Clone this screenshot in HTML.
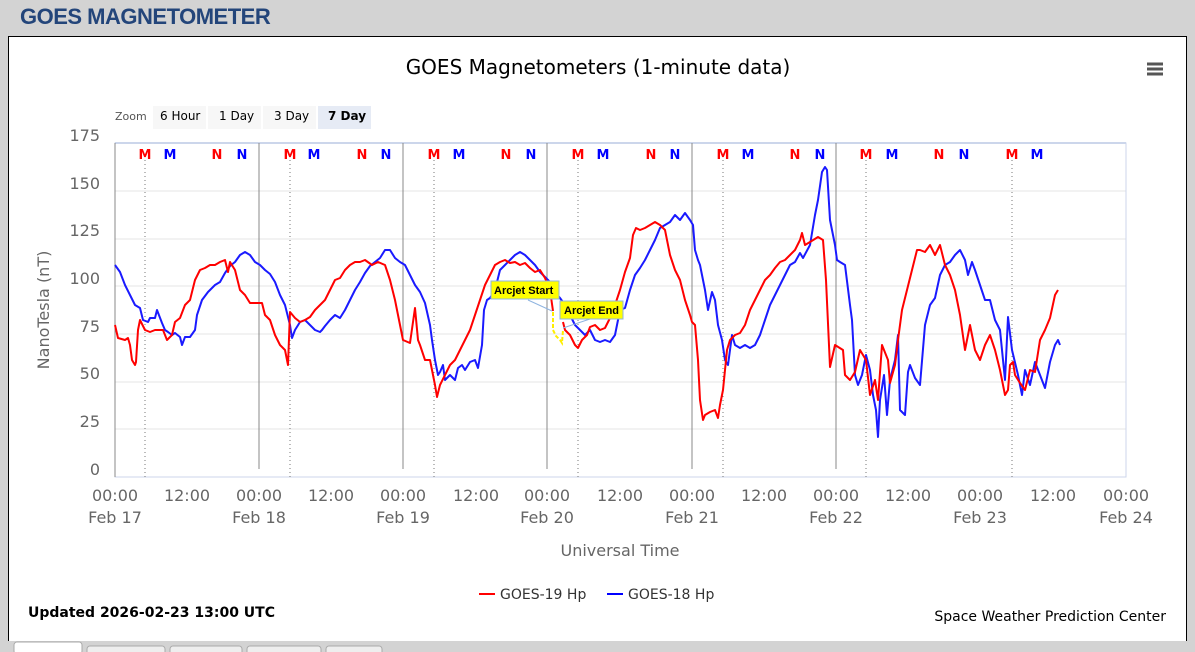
<!DOCTYPE html>
<html><head><meta charset="utf-8"><style>
body{margin:0;width:1195px;height:652px;background:#d3d3d3;overflow:hidden;font-family:"DejaVu Sans",sans-serif;}
.h{position:absolute;left:20px;top:4px;font:bold 22px "Liberation Sans",sans-serif;color:#23457a;letter-spacing:-0.5px}
.box{position:absolute;left:8px;top:36px;width:1177px;height:604px;background:#fff;border:1px solid #000;border-bottom:none}
.tabs{position:absolute;left:8px;top:641px;width:1177px;height:12px;background:#d3d3d3}
</style></head><body>
<div class="h">GOES MAGNETOMETER</div>
<div class="box"></div>
<svg style="position:absolute;left:0;top:0" width="1195" height="652" font-family="DejaVu Sans, sans-serif">
<rect x="14" y="642" width="68" height="12" rx="3" fill="#fff" stroke="#aaa"/>
<rect x="87" y="646" width="78" height="10" rx="3" fill="#eee" stroke="#aaa"/>
<rect x="170" y="646" width="72" height="10" rx="3" fill="#eee" stroke="#aaa"/>
<rect x="247" y="646" width="74" height="10" rx="3" fill="#eee" stroke="#aaa"/>
<rect x="326" y="646" width="56" height="10" rx="3" fill="#eee" stroke="#aaa"/>
<text x="598" y="74" text-anchor="middle" font-size="20" fill="#000">GOES Magnetometers (1-minute data)</text>
<g stroke="#555" stroke-width="3"><line x1="1147" y1="64" x2="1163" y2="64"/><line x1="1147" y1="69" x2="1163" y2="69"/><line x1="1147" y1="74" x2="1163" y2="74"/></g>
<text x="115" y="120" font-size="11" fill="#555">Zoom</text>
<rect x="153" y="106" width="53" height="23" fill="#f7f7f7"/><text x="160" y="120" font-size="12">6 Hour</text>
<rect x="208" y="106" width="53" height="23" fill="#f7f7f7"/><text x="219" y="120" font-size="12">1 Day</text>
<rect x="263" y="106" width="53" height="23" fill="#f7f7f7"/><text x="274" y="120" font-size="12">3 Day</text>
<rect x="318" y="106" width="53" height="23" fill="#e6ebf5"/><text x="328" y="120" font-size="12" font-weight="bold">7 Day</text>
<g stroke="#e6e6e6"><line x1="115" y1="191" x2="1126" y2="191"/><line x1="115" y1="239" x2="1126" y2="239"/><line x1="115" y1="286" x2="1126" y2="286"/><line x1="115" y1="334" x2="1126" y2="334"/><line x1="115" y1="382" x2="1126" y2="382"/><line x1="115" y1="429" x2="1126" y2="429"/></g>
<rect x="115" y="143" width="1011" height="334" fill="none" stroke="#ccd6eb"/>
<line x1="115" y1="143" x2="1126" y2="143" stroke="#ccd6eb" stroke-width="2"/>
<g stroke="#888"><line x1="115" y1="143" x2="115" y2="477"/><line x1="259" y1="143" x2="259" y2="469"/><line x1="403" y1="143" x2="403" y2="469"/><line x1="547" y1="143" x2="547" y2="469"/><line x1="692" y1="143" x2="692" y2="469"/><line x1="836" y1="143" x2="836" y2="469"/></g>
<g stroke="#777" stroke-dasharray="1,3"><line x1="145" y1="160" x2="145" y2="477"/><line x1="290" y1="160" x2="290" y2="477"/><line x1="434" y1="160" x2="434" y2="477"/><line x1="578" y1="160" x2="578" y2="477"/><line x1="723" y1="160" x2="723" y2="477"/><line x1="866" y1="160" x2="866" y2="477"/><line x1="1012" y1="160" x2="1012" y2="477"/></g>
<g font-size="13" font-weight="bold" text-anchor="middle">
<g fill="#f00"><text x="145" y="159">M</text><text x="290" y="159">M</text><text x="434" y="159">M</text><text x="578" y="159">M</text><text x="723" y="159">M</text><text x="866" y="159">M</text><text x="1012" y="159">M</text>
<text x="217" y="159">N</text><text x="362" y="159">N</text><text x="506" y="159">N</text><text x="651" y="159">N</text><text x="795" y="159">N</text><text x="939" y="159">N</text></g>
<g fill="#00f"><text x="170" y="159">M</text><text x="314" y="159">M</text><text x="459" y="159">M</text><text x="603" y="159">M</text><text x="748" y="159">M</text><text x="892" y="159">M</text><text x="1037" y="159">M</text>
<text x="242" y="159">N</text><text x="386" y="159">N</text><text x="531" y="159">N</text><text x="675" y="159">N</text><text x="820" y="159">N</text><text x="964" y="159">N</text></g></g>
<g font-size="16" fill="#666" text-anchor="end"><text x="100" y="141">175</text><text x="100" y="189">150</text><text x="100" y="236">125</text><text x="100" y="284">100</text><text x="100" y="332">75</text><text x="100" y="379">50</text><text x="100" y="427">25</text><text x="100" y="475">0</text></g>
<text transform="translate(49,310) rotate(-90)" text-anchor="middle" font-size="16" fill="#666">NanoTesla (nT)</text>
<g font-size="16" fill="#666" text-anchor="middle">
<text x="115" y="501">00:00</text><text x="187" y="501">12:00</text><text x="259" y="501">00:00</text><text x="331" y="501">12:00</text><text x="403" y="501">00:00</text><text x="476" y="501">12:00</text><text x="547" y="501">00:00</text><text x="620" y="501">12:00</text><text x="692" y="501">00:00</text><text x="764" y="501">12:00</text><text x="836" y="501">00:00</text><text x="908" y="501">12:00</text><text x="980" y="501">00:00</text><text x="1053" y="501">12:00</text><text x="1126" y="501">00:00</text>
<text x="115" y="523">Feb 17</text><text x="259" y="523">Feb 18</text><text x="403" y="523">Feb 19</text><text x="547" y="523">Feb 20</text><text x="692" y="523">Feb 21</text><text x="836" y="523">Feb 22</text><text x="980" y="523">Feb 23</text><text x="1126" y="523">Feb 24</text>
<text x="620" y="556">Universal Time</text></g>
<polyline fill="none" stroke="#1a1aff" stroke-width="2" stroke-linejoin="round" points="115,265 120,272 125,285 130,295 135,305 140,308 143,320 148,322 150,318 155,318 157,310 162,323 165,330 168,332 172,335 175,333 180,337 182,345 185,337 190,337 195,330 197,315 202,300 208,292 215,285 220,282 225,273 230,266 235,262 240,255 245,252 250,255 255,262 260,265 265,270 270,274 275,282 280,295 285,305 290,325 292,338 295,330 300,322 305,320 310,325 315,330 320,332 322,330 325,326 330,320 335,315 340,318 345,310 350,300 355,290 360,282 365,273 370,266 375,262 380,258 385,250 390,250 395,258 400,262 405,265 410,275 415,285 420,292 425,303 430,325 432,340 435,360 438,375 440,372 443,365 445,380 450,375 455,380 458,368 462,365 465,370 470,362 475,360 478,368 482,345 484,310 487,300 490,298 495,290 500,270 505,265 510,260 515,255 520,252 525,255 530,260 535,265 540,272 545,277 550,282 555,292 560,298 565,305 570,315 575,325 580,330 585,335 590,330 595,340 600,342 605,340 610,342 615,335 620,310 625,308 630,290 635,275 640,268 645,260 650,250 655,240 660,228 665,225 670,222 675,215 680,220 685,213 690,220 693,225 695,250 698,260 700,265 705,290 708,310 712,292 715,300 718,325 722,340 725,360 728,365 732,335 735,345 740,348 745,345 750,348 755,345 760,335 765,320 770,305 775,295 780,285 785,275 790,265 795,262 800,253 803,258 810,245 815,215 818,200 822,172 825,167 827,170 830,220 835,245 837,260 840,262 845,265 850,305 852,320 855,375 858,385 862,375 866,355 870,370 873,395 876,410 878,437 880,400 884,375 887,415 890,380 895,360 898,335 900,410 905,415 908,372 910,365 915,378 920,385 925,325 930,305 935,298 940,275 945,265 950,262 955,255 960,250 965,260 968,275 972,262 975,270 980,285 985,300 990,300 995,320 1000,330 1005,380 1008,317 1012,350 1018,375 1022,395 1025,370 1030,385 1035,362 1040,375 1045,388 1050,362 1055,345 1058,340 1060,345"/>
<polyline fill="none" stroke="#ff0000" stroke-width="2" stroke-linejoin="round" points="115,325 118,338 125,340 128,338 130,345 132,360 135,365 136,362 138,330 140,320 145,330 150,332 155,330 160,330 163,330 167,340 172,335 175,322 180,318 185,305 190,300 195,280 200,270 205,268 210,265 215,265 220,262 225,260 228,272 230,262 235,270 240,290 245,295 250,303 255,303 262,303 265,315 270,320 275,335 280,345 285,350 288,365 290,312 295,318 300,322 305,320 310,317 315,310 320,305 325,300 330,290 335,280 340,278 345,270 350,265 355,262 360,262 365,260 372,265 378,262 385,265 390,280 395,300 398,315 403,340 410,343 415,308 418,340 420,345 425,360 430,360 435,385 437,397 440,385 445,375 450,365 455,360 460,350 465,340 470,330 475,315 480,300 485,285 490,275 495,265 500,262 505,260 510,263 515,262 520,265 525,263 530,268 535,272 540,270 545,278 550,290 553,311"/>
<polyline fill="none" stroke="#ff0000" stroke-width="2" stroke-linejoin="round" points="563,322 565,330 570,335 575,345 578,348 582,340 587,335 590,327 595,325 600,330 605,328 610,318 615,305 620,290 625,272 630,258 633,235 636,228 640,230 645,228 650,225 655,222 660,225 665,230 670,255 675,270 680,280 685,300 690,315 692,322 695,325 698,360 700,400 703,420 705,415 710,412 715,410 718,418 720,405 723,390 725,370 727,350 730,340 735,335 740,333 745,325 750,310 755,300 760,290 765,280 770,275 775,268 780,262 785,260 790,255 795,250 800,240 802,233 805,245 810,242 818,237 823,240 826,280 830,367 835,345 843,350 845,375 850,380 855,372 860,350 866,360 870,395 875,380 878,400 882,345 888,360 890,383 895,365 898,340 902,310 907,290 912,270 917,250 920,250 925,252 930,245 935,255 940,245 945,265 950,275 955,290 960,315 965,350 970,325 975,350 980,360 985,345 990,335 995,350 1000,370 1005,395 1008,390 1010,365 1013,362 1015,375 1020,383 1025,390 1030,370 1035,372 1040,340 1045,330 1050,318 1055,295 1058,290"/>
<polyline fill="none" stroke="#ffee00" stroke-width="2" stroke-dasharray="4,2" points="553,312 553,330 556,336 560,340 562,343 563,330"/>
<g stroke="#8fb4e0"><line x1="528" y1="300" x2="552" y2="311"/><line x1="563" y1="328" x2="590" y2="319"/></g>
<rect x="491" y="281" width="68" height="18" fill="#ffff00" stroke="#8fb4e0"/><text x="494" y="294" font-size="11" font-weight="bold" font-family="Liberation Sans, sans-serif">Arcjet Start</text>
<rect x="560" y="301" width="63" height="18" fill="#ffff00" stroke="#8fb4e0"/><text x="564" y="314" font-size="11" font-weight="bold" font-family="Liberation Sans, sans-serif">Arcjet End</text>
<line x1="479" y1="594" x2="495" y2="594" stroke="#f00" stroke-width="2"/><text x="500" y="599" font-size="14" fill="#333">GOES-19 Hp</text>
<line x1="607" y1="594" x2="623" y2="594" stroke="#00f" stroke-width="2"/><text x="628" y="599" font-size="14" fill="#333">GOES-18 Hp</text>
<text x="28" y="617" font-size="14" font-weight="bold">Updated 2026-02-23 13:00 UTC</text>
<text x="1166" y="621" font-size="14" text-anchor="end">Space Weather Prediction Center</text>
</svg>
</body></html>
